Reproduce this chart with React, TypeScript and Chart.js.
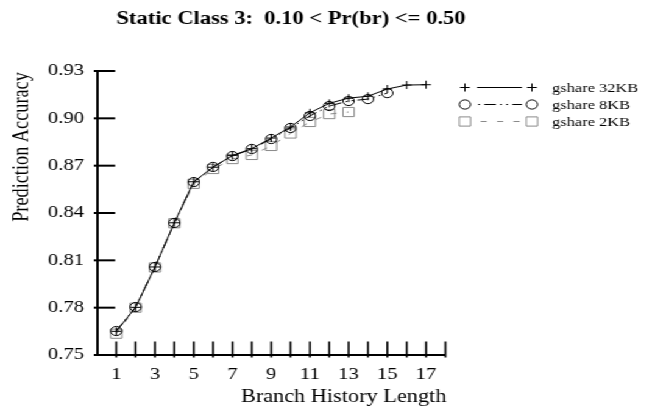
import { useEffect, useRef } from "react";
import { Chart, registerables } from "chart.js";

Chart.register(...registerables);

// Branch history lengths simulated for each predictor size
const historyLengths32KB = [1, 2, 3, 4, 5, 6, 7, 8, 9, 10, 11, 12, 13, 14, 15, 16, 17];
const historyLengths8KB = [1, 2, 3, 4, 5, 6, 7, 8, 9, 10, 11, 12, 13, 14, 15];
const historyLengths2KB = [1, 2, 3, 4, 5, 6, 7, 8, 9, 10, 11, 12, 13];

// Prediction accuracy per history length
const gshare32KB = [
  0.765, 0.7802, 0.8058, 0.8338, 0.8598, 0.869, 0.8765, 0.8808, 0.8875, 0.8945,
  0.9035, 0.9095, 0.9128, 0.914, 0.9186, 0.9211, 0.9213,
];
const gshare8KB = [
  0.7652, 0.7804, 0.8058, 0.8337, 0.8596, 0.8692, 0.8761, 0.8806, 0.8869, 0.8939,
  0.9015, 0.9078, 0.911, 0.9122, 0.916,
];
const gshare2KB = [
  0.7635, 0.78, 0.8055, 0.8335, 0.8585, 0.8679, 0.8742, 0.8768, 0.8825, 0.8904,
  0.8977, 0.9027, 0.904,
];

const seriesNames = ["gshare 32KB", "gshare 8KB", "gshare 2KB"];
const xTickValues = [1, 2, 3, 4, 5, 6, 7, 8, 9, 10, 11, 12, 13, 14, 15, 16, 17, 18];
const yTickValues = [0.75, 0.78, 0.81, 0.84, 0.87, 0.9, 0.93];
const titleText = "Static Class 3:  0.10 < Pr(br) <= 0.50";
const xTitleText = "Branch History Length";
const yTitleText = "Prediction Accuracy";

// The figure is drawn narrow and widened horizontally, like the original plot.
const CANVAS_W = 535;
const CANVAS_H = 407;
const STRETCH = 652 / CANVAS_W;

const SERIF = "'Liberation Serif', 'Times New Roman', serif";
const GRAY = "#8a8a8a";

const DASH_DOT_DOT = [9.5, 3.5, 1.5, 3.5, 1.5, 3.5];
const DASHED = [5, 8.5];

const toPoints = (xs: number[], ys: number[]) => xs.map((x, i) => ({ x, y: ys[i] }));

function drawMarker(ctx: CanvasRenderingContext2D, kind: string, x: number, y: number) {
  ctx.beginPath();
  if (kind === "cross") {
    ctx.moveTo(x - 4, y);
    ctx.lineTo(x + 4, y);
    ctx.moveTo(x, y - 4);
    ctx.lineTo(x, y + 4);
  } else if (kind === "circle") {
    ctx.arc(x, y, 4.6, 0, Math.PI * 2);
  } else {
    ctx.rect(x - 4.6, y - 4.6, 9.2, 9.2);
  }
  ctx.stroke();
}

const decorations = {
  id: "decorations",
  afterDraw(chart: any) {
    const { ctx, chartArea, scales } = chart;
    const xs = scales.x;
    const ys = scales.y;
    ctx.save();
    ctx.strokeStyle = "#000";
    ctx.setLineDash([]);

    // inward tick marks on both axes
    ctx.lineWidth = 1.6;
    for (const v of xTickValues) {
      const px = xs.getPixelForValue(v);
      ctx.beginPath();
      ctx.moveTo(px, chartArea.bottom + 2.5);
      ctx.lineTo(px, chartArea.bottom - 13.5);
      ctx.stroke();
    }
    ctx.lineWidth = 2;
    for (const v of yTickValues) {
      const py = ys.getPixelForValue(v);
      ctx.beginPath();
      ctx.moveTo(chartArea.left - 2.5, py);
      ctx.lineTo(chartArea.left + 15, py);
      ctx.stroke();
    }

    ctx.fillStyle = "#000";
    ctx.textBaseline = "alphabetic";
    ctx.textAlign = "center";

    // chart title
    ctx.font = `bold 18.5px ${SERIF}`;
    ctx.fillText(titleText, 238.8, 24);

    // axis titles
    ctx.font = `18.3px ${SERIF}`;
    ctx.fillText(xTitleText, 282, 402);
    ctx.save();
    ctx.translate(23, 147);
    ctx.rotate(-Math.PI / 2);
    ctx.fillText(yTitleText, 0, 0);
    ctx.restore();

    // legend
    const rows = [
      { marker: "cross", dash: [] as number[], offset: 0, color: "#000" },
      { marker: "circle", dash: DASH_DOT_DOT, offset: 17, color: "#000" },
      { marker: "rect", dash: DASHED, offset: -3, color: GRAY },
    ];
    const rowY = [87.5, 104.5, 121.5];
    ctx.font = `13.5px ${SERIF}`;
    ctx.textAlign = "left";
    ctx.textBaseline = "middle";
    rows.forEach((r, i) => {
      const y = rowY[i];
      ctx.strokeStyle = r.color;
      ctx.lineWidth = 1;
      ctx.setLineDash(r.dash);
      ctx.lineDashOffset = r.offset;
      ctx.beginPath();
      ctx.moveTo(391.4, y);
      ctx.lineTo(428.3, y);
      ctx.stroke();
      ctx.setLineDash([]);
      ctx.lineDashOffset = 0;
      drawMarker(ctx, r.marker, 381.5, y);
      drawMarker(ctx, r.marker, 436.5, y);
      ctx.fillStyle = "#000";
      ctx.fillText(seriesNames[i], 453, y + 0.5);
    });

    ctx.restore();
  },
};

export default function App() {
  const canvasRef = useRef<HTMLCanvasElement | null>(null);

  useEffect(() => {
    const canvas = canvasRef.current;
    if (!canvas) return;

    const chart = new Chart(canvas, {
      type: "line",
      data: {
        datasets: [
          {
            label: seriesNames[0],
            data: toPoints(historyLengths32KB, gshare32KB),
            borderColor: "#000",
            borderWidth: 1,
            pointStyle: "cross",
            pointRadius: 4,
            pointBorderColor: "#000",
            pointBackgroundColor: "transparent",
            pointBorderWidth: 1,
            tension: 0,
          },
          {
            label: seriesNames[1],
            data: toPoints(historyLengths8KB, gshare8KB),
            borderColor: "#000",
            borderWidth: 1,
            borderDash: DASH_DOT_DOT,
            pointStyle: "circle",
            pointRadius: 4.6,
            pointBorderColor: "#000",
            pointBackgroundColor: "transparent",
            pointBorderWidth: 1,
            tension: 0,
          },
          {
            label: seriesNames[2],
            data: toPoints(historyLengths2KB, gshare2KB),
            borderColor: GRAY,
            borderWidth: 1,
            borderDash: DASHED,
            pointStyle: "rect",
            pointRadius: 6.5,
            pointBorderColor: GRAY,
            pointBackgroundColor: "transparent",
            pointBorderWidth: 1,
            tension: 0,
          },
        ],
      },
      options: {
        animation: false,
        responsive: false,
        maintainAspectRatio: false,
        devicePixelRatio: 1,
        layout: { padding: { top: 71, right: CANVAS_W - 365.5, left: 0, bottom: 0 } },
        plugins: {
          legend: { display: false },
          title: { display: false },
          tooltip: { enabled: false },
        },
        scales: {
          x: {
            type: "linear",
            min: 0,
            max: 18,
            grid: { display: false, drawTicks: false },
            border: { display: true, width: 2, color: "#000" },
            afterBuildTicks: (scale: any) => {
              scale.ticks = xTickValues.map((value) => ({ value }));
            },
            afterFit: (scale: any) => {
              scale.height = CANVAS_H - 355;
            },
            ticks: {
              autoSkip: false,
              maxRotation: 0,
              padding: 9,
              color: "#000",
              font: { family: SERIF, size: 17 },
              callback: (v: any) => (Number(v) % 2 === 1 ? String(v) : ""),
            },
          },
          y: {
            type: "linear",
            min: 0.75,
            max: 0.93,
            grid: { display: false, drawTicks: false },
            border: { display: true, width: 2, color: "#000" },
            afterBuildTicks: (scale: any) => {
              scale.ticks = yTickValues.map((value) => ({ value }));
            },
            afterFit: (scale: any) => {
              scale.width = 79.5;
            },
            ticks: {
              padding: 10.5,
              color: "#000",
              font: { family: SERIF, size: 17 },
              callback: (v: any) => Number(v).toFixed(2),
            },
          },
        },
      },
      plugins: [decorations],
    });

    return () => chart.destroy();
  }, []);

  return (
    <div
      style={{
        position: "fixed",
        left: 0,
        top: 0,
        width: CANVAS_W,
        height: CANVAS_H,
        background: "#fff",
        transform: `scaleX(${STRETCH})`,
        transformOrigin: "0 0",
      }}
    >
      <canvas ref={canvasRef} width={CANVAS_W} height={CANVAS_H} />
    </div>
  );
}
